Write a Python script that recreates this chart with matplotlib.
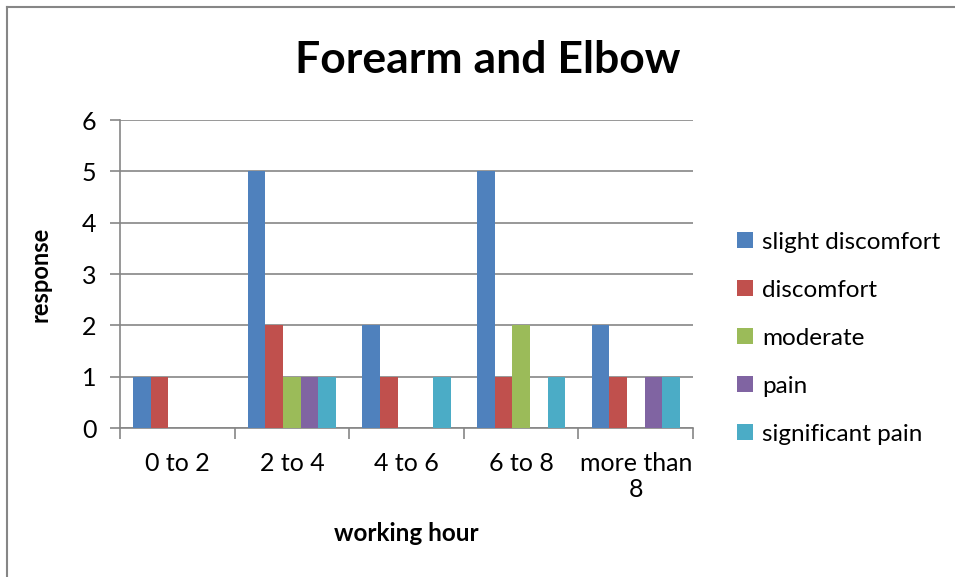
import matplotlib
matplotlib.use("Agg")
import matplotlib.pyplot as plt
import numpy as np
from matplotlib.lines import Line2D

plt.rcParams['font.family'] = ['Lato', 'DejaVu Sans']

hours = ['0 to 2', '2 to 4', '4 to 6', '6 to 8', 'more than\n8']
levels = ['slight discomfort', 'discomfort', 'moderate', 'pain', 'significant pain']
slight = [1, 5, 2, 5, 2]
discomfort = [1, 2, 1, 1, 1]
moderate = [0, 1, 0, 2, 0]
pain = [0, 1, 0, 0, 1]
significant = [0, 1, 1, 1, 1]
colors = ['#4F81BD', '#C0504D', '#9BBB59', '#8064A2', '#4BACC6']

series = [slight, discomfort, moderate, pain, significant]

fig = plt.figure(figsize=(9.55, 5.77), dpi=100)
W, H = 955, 577
ax = fig.add_axes([120 / W, 1 - 428 / H, (693 - 120) / W, (428 - 120) / H])

x = np.arange(len(hours))
bw = 1 / 6.5
for i, (vals, name, c) in enumerate(zip(series, levels, colors)):
    ax.bar(x + (i - 2) * bw, vals, bw, color=c, label=name, zorder=3)

ax.set_xlim(-0.5, len(hours) - 0.5)
ax.set_ylim(0, 6)
ax.set_yticks(range(7))
ax.grid(axis='y', color='#868686', lw=1.2, zorder=0)
ax.set_xticks(np.arange(len(hours) + 1) - 0.5)
ax.set_xticklabels([])
ax.set_xticks(x, minor=True)
ax.set_xticklabels(hours, minor=True, fontsize=18)
ax.tick_params(axis='x', which='major', length=8, color='#868686', width=1.2)
ax.tick_params(axis='x', which='minor', length=0, pad=17)
ax.tick_params(axis='y', length=7, color='#868686', width=1.2, labelsize=18, pad=10)
for s in ['top', 'right']:
    ax.spines[s].set_visible(False)
for s in ['left', 'bottom']:
    ax.spines[s].set_color('#868686')
    ax.spines[s].set_linewidth(1.2)

ax.set_ylabel('response', fontsize=17, fontweight='bold', labelpad=22)
ax.set_xlabel('working hour', fontsize=17.5, fontweight='bold', labelpad=15)
fig.text(488 / W, 1 - 60 / H, 'Forearm and Elbow', fontsize=32, fontweight='bold',
         ha='center', va='center')

fig.legend(loc='upper left', bbox_to_anchor=(715 / W, 1 - 210 / H), frameon=False,
           fontsize=17.5, handlelength=0.65, handleheight=0.65, handletextpad=0.4,
           labelspacing=1.11)

fig.add_artist(Line2D([7 / W, 7 / W], [0, 1 - 7 / H], color='#868686', lw=1.5))
fig.add_artist(Line2D([7 / W, 1], [1 - 7 / H, 1 - 7 / H], color='#868686', lw=1.5))

fig.savefig('out.png', dpi=100)
